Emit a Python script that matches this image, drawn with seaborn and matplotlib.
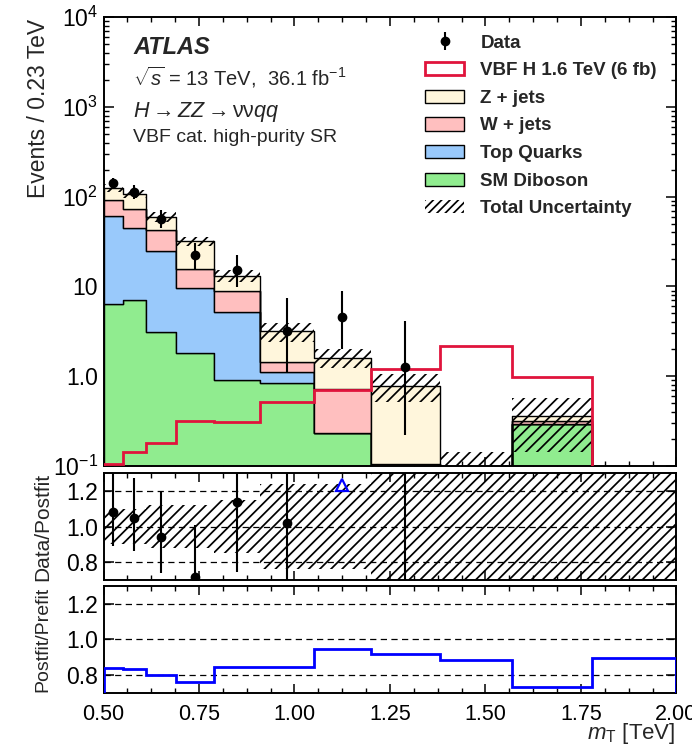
import numpy as np
import pandas as pd
import matplotlib
matplotlib.use("Agg")
import matplotlib.pyplot as plt
from matplotlib.patches import Patch
from matplotlib.ticker import (FixedLocator, LogLocator, NullFormatter,
                               FuncFormatter, MultipleLocator, AutoMinorLocator)
import seaborn as sns

# ---------------------------------------------------------------- data
# transverse-mass binning [TeV]
bin_edges = [0.50, 0.55, 0.61, 0.69, 0.79, 0.91, 1.05, 1.20, 1.38, 1.57, 1.78, 2.00]

# post-fit background yields, events / 0.23 TeV
zjets   = [32.4, 34.0, 17.3, 16.2, 4.4, 1.72, 0.89, 0.675, 0.05, 0.041, 0.0]
wjets   = [31.1, 28.1, 17.6, 6.13, 3.61, 0.32, 0.486, 0.105, 0.0, 0.025, 0.0]
topq    = [55.2, 37.9, 22.0, 7.74, 4.29, 0.28, 0.0, 0.0, 0.0, 0.0, 0.0]
diboson = [6.3, 7.0, 3.1, 1.83, 0.90, 0.84, 0.234, 0.0, 0.0, 0.293, 0.0]
# relative total uncertainty on the background sum
bkg_unc_rel = [0.10, 0.10, 0.12, 0.12, 0.15, 0.24, 0.24, 0.34, 1.9, 0.60, 1.0]

# VBF H (1.6 TeV, 6 fb) signal
signal_vbf = [0.105, 0.144, 0.181, 0.319, 0.309, 0.518, 0.70, 1.19, 2.17, 0.99, 0.0]

# observed data (first eight bins), with error-bar ends
data_val = [140, 112, 57, 22.5, 15.1, 3.2, 4.56, 1.25]
data_lo  = [121, 93, 44.6, 15.7, 9.8, 1.12, 2.0, 0.22]
data_hi  = [163, 136, 71, 30.8, 22.3, 7.4, 8.8, 4.1]

# data / post-fit ratio, with error-bar ends
ratio_val = [1.08, 1.045, 0.94, 0.715, 1.137, 1.022, 2.83, 1.60]
ratio_lo  = [0.89, 0.86, 0.74, 0.50, 0.745, 0.60, 1.33, 0.28]
ratio_hi  = [1.30, 1.27, 1.197, 1.01, 1.30, 1.40, 5.0, 5.0]

# post-fit / pre-fit background ratio
postfit_prefit = [0.840, 0.831, 0.797, 0.760, 0.843, 0.845, 0.944, 0.919, 0.883, 0.733, 0.897]

process_names = ["Z + jets", "W + jets", "Top Quarks", "SM Diboson"]
process_colors = {"Z + jets": "#fff6dc", "W + jets": "#ffbfbf",
                  "Top Quarks": "#99c9fb", "SM Diboson": "#90ec8f"}
signal_color = "#e0143c"

# ---------------------------------------------------------------- style
sns.set_theme(style="ticks")
plt.rcParams.update({
    "font.family": ["Liberation Sans", "DejaVu Sans"],
    "mathtext.fontset": "custom",
    "mathtext.rm": "Liberation Sans",
    "mathtext.it": "Liberation Sans:italic",
    "mathtext.bf": "Liberation Sans:bold",
    "hatch.linewidth": 1.25,
    "axes.linewidth": 1.4,
    "axes.edgecolor": "black",
    "xtick.direction": "in", "ytick.direction": "in",
    "xtick.top": True, "ytick.right": True,
    "xtick.major.size": 6.5, "xtick.minor.size": 3.5,
    "ytick.major.size": 7.5, "ytick.minor.size": 3.8,
    "xtick.major.width": 1.1, "xtick.minor.width": 1.0,
    "ytick.major.width": 1.1, "ytick.minor.width": 1.0,
    "xtick.color": "black", "ytick.color": "black",
    "xtick.minor.visible": True,
})

edges = np.array(bin_edges)
centers = 0.5 * (edges[:-1] + edges[1:])
total_bkg = np.sum([zjets, wjets, topq, diboson], axis=0)
unc = np.array(bkg_unc_rel)

fig = plt.figure(figsize=(6.92, 7.53), dpi=100)
W, H = 692.0, 753.0
left, right = 103.5 / W, 676.5 / W


def panel(top_px, bottom_px):
    return fig.add_axes([left, 1 - bottom_px / H, right - left, (bottom_px - top_px) / H])


ax = panel(17, 466)
ax_r1 = panel(473, 580)
ax_r2 = panel(586, 692.7)

# ---------------------------------------------------------------- main panel
long_rows = []
for name, vals in zip(process_names, [zjets, wjets, topq, diboson]):
    for c, v in zip(centers, vals):
        long_rows.append({"mT": float(c), "events": float(v), "process": name})
bkg_df = pd.DataFrame(long_rows)

sns.histplot(data=bkg_df, x="mT", weights="events", hue="process",
             hue_order=process_names, palette=process_colors, bins=list(bin_edges),
             multiple="stack", element="step", fill=True, alpha=1.0,
             edgecolor="black", linewidth=1.0, legend=False, ax=ax)
ax.set_yscale("log", nonpositive="clip")

# total uncertainty band
ax.stairs(total_bkg * (1 + unc), edges, baseline=total_bkg * (1 - unc),
          fill=True, facecolor="none", edgecolor="black", linewidth=0,
          hatch="///", zorder=4)

# signal
ax.stairs(signal_vbf, edges, color=signal_color, linewidth=2.0, zorder=5)

# data
dv = np.array(data_val)
h_data = ax.errorbar(centers[:len(dv)], dv,
                     yerr=[dv - np.array(data_lo), np.array(data_hi) - dv],
                     fmt="o", color="black", markersize=6, elinewidth=1.5,
                     capsize=0, zorder=6)

ax.set_xlim(0.5, 2.0)
ax.set_ylim(0.1, 1e4)
ax.set_xlabel("")
ax.set_ylabel("")
ax.yaxis.set_major_locator(LogLocator(base=10, numticks=10))
ax.yaxis.set_minor_locator(LogLocator(base=10, subs=np.arange(2, 10), numticks=20))
ax.yaxis.set_minor_formatter(NullFormatter())


def decade_label(v, pos):
    if np.isclose(v, 10):
        return "10"
    if np.isclose(v, 1):
        return "1.0"
    return r"$10^{%d}$" % int(round(np.log10(v)))


ax.yaxis.set_major_formatter(FuncFormatter(decade_label))
ax.tick_params(axis="y", labelsize=16.5, pad=4)
ax.tick_params(axis="x", labelbottom=False)

# ---------------------------------------------------------------- legend
legend_handles = [
    h_data,
    Patch(facecolor="white", edgecolor=signal_color, linewidth=2.0),
    Patch(facecolor=process_colors["Z + jets"], edgecolor="black", linewidth=1.0),
    Patch(facecolor=process_colors["W + jets"], edgecolor="black", linewidth=1.0),
    Patch(facecolor=process_colors["Top Quarks"], edgecolor="black", linewidth=1.0),
    Patch(facecolor=process_colors["SM Diboson"], edgecolor="black", linewidth=1.0),
    Patch(facecolor="none", edgecolor="black", linewidth=0, hatch="////"),
]
legend_labels = ["Data", "VBF H 1.6 TeV (6 fb)", "Z + jets", "W + jets",
                 "Top Quarks", "SM Diboson", "Total Uncertainty"]
ax.legend(legend_handles, legend_labels, loc="upper left",
          bbox_to_anchor=(425 / W, 1 - 34.5 / H), bbox_transform=fig.transFigure,
          frameon=False, borderpad=0, borderaxespad=0, handlelength=2.1,
          handleheight=0.7, handletextpad=0.85, labelspacing=0.56,
          prop={"family": "Liberation Sans", "weight": "bold", "size": 13.5})

# ---------------------------------------------------------------- labels
fig.text(133 / W, 1 - 48 / H, "ATLAS", fontsize=17, fontweight="bold",
         fontstyle="italic", va="center", ha="left")
fig.text(133 / W, 1 - 86 / H, r"$\sqrt{s}$ = 13 TeV,  36.1 fb$^{-1}$",
         fontsize=14.5, va="baseline", ha="left")
fig.text(133 / W, 1 - 112 / H, r"$H \rightarrow ZZ \rightarrow \mathrm{\nu\nu}qq$",
         fontsize=15.5, va="center", ha="left")
fig.text(133 / W, 1 - 137.5 / H, "VBF cat. high-purity SR",
         fontsize=14, va="center", ha="left")
fig.text(39 / W, 1 - 19 / H, "Events / 0.23 TeV", rotation=90,
         fontsize=16.5, ha="center", va="top")

# ---------------------------------------------------------------- ratio panels
for r_ax in (ax_r1, ax_r2):
    r_ax.set_xlim(0.5, 2.0)
    r_ax.set_ylim(0.7, 1.3)
    r_ax.yaxis.set_major_locator(FixedLocator([0.8, 1.0, 1.2]))
    r_ax.yaxis.set_major_formatter(FuncFormatter(lambda v, p: "%.1f" % v))
    r_ax.tick_params(axis="y", labelsize=16.5, pad=4, which="major", length=7)
    r_ax.tick_params(axis="y", which="minor", left=False, right=False)
    for lvl in (0.8, 1.0, 1.2):
        r_ax.axhline(lvl, color="black", linewidth=0.9, linestyle=(0, (5, 3.5)), zorder=1)

for a in (ax, ax_r1, ax_r2):
    a.xaxis.set_major_locator(MultipleLocator(0.25))
    a.xaxis.set_minor_locator(AutoMinorLocator(4))
    a.set_facecolor("white")

# data / post-fit
band_up = np.where(total_bkg > 0, 1 + unc, 10.0)
band_dn = np.where(total_bkg > 0, 1 - unc, -10.0)
ax_r1.stairs(band_up, edges, baseline=band_dn, fill=True, facecolor="none",
             edgecolor="black", linewidth=0, hatch="///", zorder=2)
rv = np.array(ratio_val)
rlo = np.array(ratio_lo)
rhi = np.array(ratio_hi)
ax_r1.errorbar(centers[:len(rv)], rv, yerr=[rv - rlo, rhi - rv], fmt="o",
               color="black", markersize=6, elinewidth=1.5, capsize=0, zorder=5)
# points whose whole error bar lies above the visible range
ymax_r = ax_r1.get_ylim()[1]
off_scale = rlo > ymax_r
ax_r1.plot(centers[:len(rv)][off_scale], np.full(off_scale.sum(), 1.23),
           linestyle="none", marker="^", markersize=8, markerfacecolor="none",
           markeredgecolor="blue", markeredgewidth=1.6, zorder=6)
ax_r1.tick_params(axis="x", labelbottom=False)

# post-fit / pre-fit
ax_r2.stairs(postfit_prefit, edges, color="blue", linewidth=2.0, zorder=4)
ax_r2.xaxis.set_major_formatter(FuncFormatter(lambda v, p: "%.2f" % v))
ax_r2.tick_params(axis="x", labelsize=15.5, pad=8)

fig.text(43 / W, 1 - 527 / H, "Data/Postfit", rotation=90, fontsize=15,
         ha="center", va="center")
fig.text(43 / W, 1 - 639 / H, "Postfit/Prefit", rotation=90, fontsize=14,
         ha="center", va="center")
fig.text(675 / W, 1 - 733 / H, r"$m_{\mathrm{T}}$ [TeV]", fontsize=16,
         ha="right", va="center")

fig.savefig("out.png", dpi=100, facecolor="white")
